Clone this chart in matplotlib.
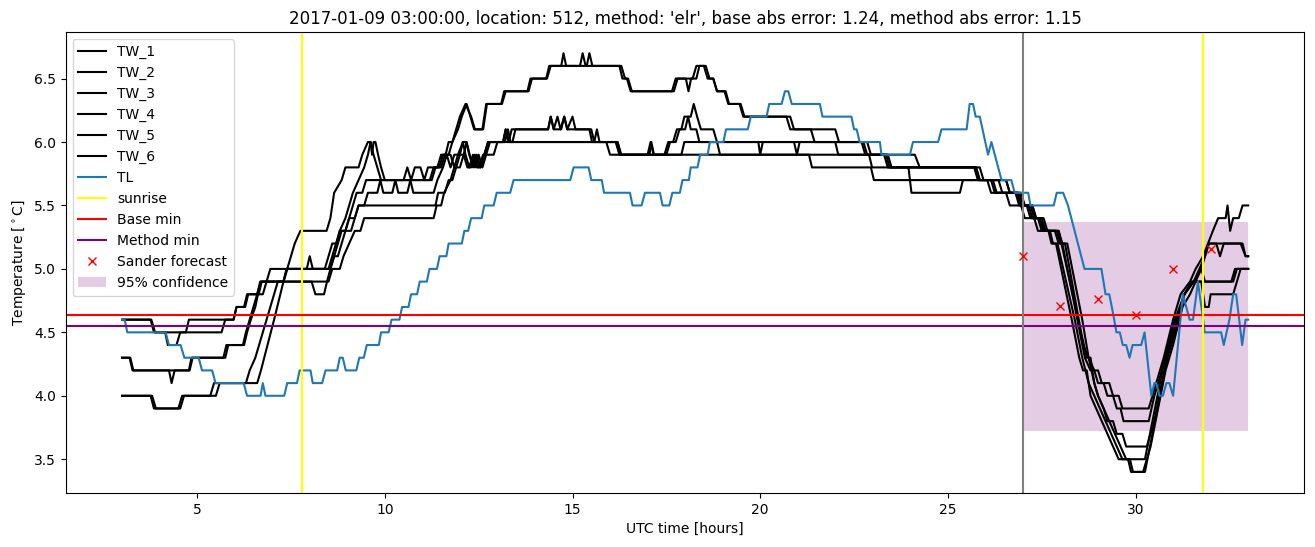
import numpy as np
import matplotlib.pyplot as plt

# (hour, temperature) vertices
tw_1 = [(3.0, 4.0), (3.76, 4.0), (3.85, 3.9), (4.5, 3.9), (4.6, 4.0), (5.35, 4.0), (5.45, 4.1), (6.6, 4.1),
        (6.7, 4.2), (7.05, 4.6), (7.3, 4.9), (7.6, 5.2), (7.75, 5.3), (8.45, 5.3), (8.55, 5.4), (8.65, 5.6),
        (8.85, 5.7), (8.95, 5.8), (9.3, 5.8), (9.4, 5.9), (9.55, 6.0), (9.62, 6.0), (9.66, 5.9), (9.7, 6.0),
        (9.75, 6.0), (9.82, 5.9), (9.9, 5.8), (10.0, 5.7), (10.5, 5.7), (10.6, 5.8), (10.7, 5.7), (10.8, 5.8),
        (10.95, 5.8), (11.05, 5.7), (11.15, 5.8), (11.4, 5.8), (11.5, 5.9), (11.62, 5.9), (11.7, 6.0),
        (11.8, 6.0), (11.9, 6.1), (12.0, 6.2), (12.15, 6.3), (12.3, 6.2), (12.4, 6.1), (12.6, 6.1),
        (12.7, 6.3), (13.1, 6.3), (13.18, 6.4), (13.8, 6.4), (13.88, 6.5), (14.3, 6.5), (14.38, 6.6),
        (14.7, 6.6), (14.76, 6.7), (14.83, 6.6), (15.2, 6.6), (15.27, 6.7), (15.35, 6.6), (16.25, 6.6),
        (16.33, 6.5), (16.45, 6.5), (16.55, 6.4), (17.65, 6.4), (17.75, 6.5), (18.2, 6.5), (18.3, 6.6),
        (18.55, 6.6), (18.65, 6.5), (18.75, 6.5), (18.85, 6.4), (19.05, 6.4), (19.15, 6.3), (19.45, 6.3),
        (19.55, 6.2), (20.7, 6.2), (20.8, 6.1), (22.0, 6.1), (22.1, 6.0), (22.75, 6.0), (22.85, 5.9),
        (23.3, 5.9), (23.4, 5.8), (25.7, 5.8), (25.8, 5.7), (26.35, 5.7), (26.45, 5.6), (26.9, 5.6),
        (27.0, 5.5), (27.25, 5.5), (27.35, 5.4), (27.5, 5.4), (27.6, 5.3), (27.95, 5.3), (28.1, 5.1),
        (28.4, 4.7), (28.6, 4.4), (28.75, 4.3), (28.9, 4.2), (29.0, 4.2), (29.1, 4.1), (29.3, 4.1),
        (29.4, 4.0), (29.55, 4.0), (29.65, 3.9), (30.35, 3.9), (30.55, 4.1), (30.75, 4.3), (31.0, 4.6),
        (31.2, 4.8), (31.45, 4.9), (31.6, 5.0), (31.8, 5.1), (31.93, 5.2), (32.06, 5.3), (32.2, 5.4),
        (32.4, 5.4), (32.45, 5.5), (32.52, 5.3), (32.6, 5.4), (32.75, 5.4), (32.85, 5.5), (33.0, 5.5)]

tw_2 = [(3.0, 4.0), (3.8, 4.0), (3.9, 3.9), (4.55, 3.9), (4.65, 4.0), (5.5, 4.0), (5.6, 4.1), (6.3, 4.1),
        (6.4, 4.2), (6.55, 4.3), (6.65, 4.4), (6.75, 4.5), (6.85, 4.6), (6.95, 4.7), (7.05, 4.8), (7.15, 4.9),
        (7.3, 4.9), (7.4, 5.0), (8.5, 5.0), (8.6, 5.1), (8.7, 5.2), (8.8, 5.3), (8.95, 5.4), (9.05, 5.5),
        (9.15, 5.6), (9.3, 5.7), (9.45, 5.8), (9.55, 5.9), (9.62, 6.0), (9.7, 5.9), (9.8, 5.8), (9.9, 5.7),
        (11.2, 5.7), (11.3, 5.8), (11.45, 5.8), (11.55, 5.9), (11.7, 5.9), (11.8, 6.0), (11.95, 6.1),
        (12.05, 6.2), (12.18, 6.3), (12.28, 6.2), (12.38, 6.1), (12.62, 6.1), (12.72, 6.3), (13.12, 6.3),
        (13.22, 6.4), (13.83, 6.4), (13.92, 6.5), (14.32, 6.5), (14.42, 6.6), (15.38, 6.6), (15.45, 6.7),
        (15.53, 6.6), (16.3, 6.6), (16.4, 6.5), (16.48, 6.5), (16.58, 6.4), (17.7, 6.4), (17.8, 6.5),
        (18.02, 6.5), (18.09, 6.4), (18.16, 6.5), (18.3, 6.5), (18.38, 6.6), (18.5, 6.6), (18.6, 6.5),
        (18.75, 6.5), (18.85, 6.4), (19.08, 6.4), (19.17, 6.3), (19.48, 6.3), (19.58, 6.2), (20.8, 6.2),
        (20.9, 6.1), (21.35, 6.1), (21.45, 6.0), (22.85, 6.0), (22.95, 5.9), (24.12, 5.9), (24.25, 5.8),
        (25.75, 5.8), (25.85, 5.7), (26.55, 5.7), (26.65, 5.6), (26.95, 5.6), (27.05, 5.5), (27.2, 5.5),
        (27.3, 5.4), (27.55, 5.4), (27.65, 5.3), (27.85, 5.3), (27.95, 5.2), (28.05, 5.2), (28.45, 4.6),
        (28.65, 4.3), (28.8, 4.2), (28.9, 4.2), (29.0, 4.1), (29.15, 4.1), (29.25, 4.0), (29.4, 4.0),
        (29.5, 3.9), (29.6, 3.9), (29.68, 3.8), (30.35, 3.8), (30.5, 4.0), (30.7, 4.2), (30.9, 4.4),
        (31.1, 4.6), (31.3, 4.8), (31.55, 4.9), (31.7, 5.0), (31.85, 5.1), (31.95, 5.2), (32.8, 5.2),
        (32.93, 5.1), (33.0, 5.1)]

tw_3 = [(3.0, 4.6), (3.76, 4.6), (3.85, 4.5), (4.15, 4.5), (4.22, 4.4), (4.45, 4.4), (4.55, 4.5), (5.65, 4.5),
        (5.75, 4.6), (5.97, 4.6), (6.05, 4.7), (6.25, 4.7), (6.33, 4.8), (6.64, 4.8), (6.72, 4.9), (7.3, 4.9),
        (7.38, 5.0), (7.92, 5.0), (8.0, 5.1), (8.08, 5.0), (8.55, 5.0), (8.65, 5.1), (8.75, 5.2), (8.85, 5.3),
        (8.95, 5.3), (9.05, 5.4), (9.15, 5.5), (9.25, 5.6), (9.4, 5.6), (9.5, 5.7), (11.25, 5.7), (11.35, 5.8),
        (11.5, 5.8), (11.6, 5.9), (11.75, 5.9), (11.85, 5.8), (11.95, 5.9), (12.08, 6.0), (12.17, 6.0),
        (12.25, 5.9), (12.35, 5.8), (12.45, 5.9), (12.55, 5.8), (12.65, 5.9), (12.75, 6.0), (13.15, 6.0),
        (13.22, 6.1), (13.3, 6.0), (13.38, 6.1), (14.35, 6.1), (14.42, 6.2), (14.5, 6.1), (14.6, 6.2),
        (14.68, 6.1), (14.78, 6.2), (14.86, 6.1), (15.0, 6.2), (15.08, 6.1), (15.5, 6.1), (15.58, 6.0),
        (15.65, 6.1), (15.72, 6.0), (16.2, 6.0), (16.3, 5.9), (17.45, 5.9), (17.55, 6.0), (17.68, 6.0),
        (17.78, 6.1), (17.9, 6.1), (17.98, 6.2), (18.15, 6.2), (18.23, 6.3), (18.32, 6.2), (18.42, 6.1),
        (18.75, 6.1), (18.85, 6.0), (19.95, 6.0), (20.0, 5.9), (20.07, 6.0), (22.7, 6.0), (22.8, 5.9),
        (23.35, 5.9), (23.45, 5.8), (25.75, 5.8), (25.85, 5.7), (26.15, 5.7), (26.25, 5.6), (26.85, 5.6),
        (26.95, 5.5), (27.25, 5.5), (27.35, 5.4), (27.45, 5.4), (27.55, 5.3), (27.9, 5.3), (28.0, 5.2),
        (28.12, 5.2), (28.55, 4.5), (28.7, 4.3), (28.8, 4.3), (28.9, 4.1), (29.0, 4.0), (29.15, 3.9),
        (29.25, 3.8), (29.4, 3.8), (29.5, 3.7), (29.65, 3.7), (29.75, 3.6), (30.3, 3.6), (30.5, 3.8),
        (30.7, 4.1), (30.9, 4.4), (31.1, 4.6), (31.3, 4.8), (31.5, 4.9), (32.6, 4.9), (32.7, 5.0),
        (33.0, 5.0)]

tw_4 = [(3.0, 4.6), (3.78, 4.6), (3.88, 4.5), (4.7, 4.5), (4.78, 4.6), (5.97, 4.6), (6.05, 4.7), (6.28, 4.7),
        (6.36, 4.8), (6.6, 4.8), (6.68, 4.9), (8.05, 4.9), (8.15, 4.8), (8.38, 4.8), (8.46, 4.9), (8.55, 5.0),
        (8.65, 5.1), (8.75, 5.1), (8.85, 5.2), (8.95, 5.3), (9.1, 5.3), (9.2, 5.4), (9.3, 5.5), (9.45, 5.5),
        (9.55, 5.6), (9.8, 5.6), (9.88, 5.7), (9.96, 5.6), (10.2, 5.6), (10.28, 5.7), (10.36, 5.6),
        (10.6, 5.6), (10.68, 5.7), (10.76, 5.6), (11.3, 5.6), (11.4, 5.7), (11.55, 5.8), (11.65, 5.9),
        (11.75, 5.8), (11.85, 5.9), (12.1, 5.9), (12.18, 6.0), (12.26, 5.9), (12.4, 5.8), (12.5, 5.9),
        (12.6, 5.8), (12.7, 5.9), (12.8, 6.0), (13.4, 6.0), (13.48, 6.1), (14.35, 6.1), (14.42, 6.2),
        (14.5, 6.1), (14.7, 6.1), (14.78, 6.2), (14.86, 6.1), (15.45, 6.1), (15.52, 6.0), (16.2, 6.0),
        (16.28, 5.9), (17.0, 5.9), (17.08, 6.0), (17.16, 5.9), (17.5, 5.9), (17.6, 6.0), (17.75, 6.0),
        (17.85, 6.1), (18.0, 6.1), (18.08, 6.2), (18.15, 6.1), (18.3, 6.1), (18.38, 6.0), (20.9, 6.0),
        (20.98, 5.9), (21.05, 6.0), (22.0, 6.0), (22.08, 5.9), (22.9, 5.9), (22.98, 5.8), (25.85, 5.8),
        (25.95, 5.7), (26.2, 5.7), (26.3, 5.6), (26.8, 5.6), (26.9, 5.5), (27.1, 5.5), (27.2, 5.4),
        (27.4, 5.4), (27.5, 5.3), (27.68, 5.3), (27.76, 5.2), (27.88, 5.2), (28.3, 4.6), (28.5, 4.3),
        (28.6, 4.2), (28.7, 4.2), (28.8, 4.0), (28.95, 3.9), (29.1, 3.8), (29.25, 3.7), (29.4, 3.6),
        (29.55, 3.5), (30.25, 3.5), (30.45, 3.8), (30.65, 4.1), (30.85, 4.4), (31.05, 4.6), (31.3, 4.8),
        (31.5, 4.9), (31.75, 4.9), (31.85, 4.7), (31.95, 4.7), (32.0, 4.8), (32.6, 4.8), (32.7, 4.9),
        (32.8, 5.0), (33.0, 5.0)]

tw_5 = [(3.0, 4.3), (3.2, 4.3), (3.28, 4.2), (4.25, 4.2), (4.32, 4.1), (4.4, 4.2), (4.78, 4.2), (4.85, 4.3),
        (5.7, 4.3), (5.78, 4.4), (6.22, 4.4), (6.3, 4.5), (6.4, 4.6), (6.5, 4.7), (6.6, 4.8), (6.7, 4.9),
        (6.85, 4.9), (6.95, 5.0), (8.4, 5.0), (8.5, 5.1), (8.6, 5.2), (8.72, 5.2), (8.8, 5.3), (8.95, 5.3),
        (9.05, 5.4), (9.2, 5.4), (9.3, 5.5), (11.35, 5.5), (11.42, 5.6), (11.6, 5.6), (11.7, 5.7),
        (11.8, 5.7), (11.9, 5.8), (12.0, 5.9), (12.08, 6.0), (12.15, 5.9), (12.25, 5.8), (12.35, 5.9),
        (12.45, 5.8), (12.55, 5.8), (12.65, 5.9), (12.75, 6.0), (13.2, 6.0), (13.28, 6.1), (13.35, 6.0),
        (15.9, 6.0), (16.0, 5.9), (17.05, 5.9), (17.1, 6.0), (17.17, 5.9), (17.9, 5.9), (17.98, 6.0),
        (18.85, 6.0), (18.93, 5.9), (21.3, 5.9), (21.38, 5.8), (22.95, 5.8), (23.03, 5.7), (26.55, 5.7),
        (26.65, 5.6), (26.85, 5.6), (26.95, 5.5), (27.15, 5.5), (27.25, 5.4), (27.45, 5.4), (27.55, 5.3),
        (27.72, 5.3), (27.8, 5.2), (27.92, 5.2), (28.38, 4.6), (28.58, 4.3), (28.75, 4.1), (28.9, 4.0),
        (29.05, 3.9), (29.2, 3.8), (29.35, 3.7), (29.5, 3.6), (29.65, 3.5), (29.8, 3.5), (29.88, 3.4),
        (30.25, 3.4), (30.45, 3.7), (30.65, 4.0), (30.85, 4.3), (31.05, 4.5), (31.3, 4.8), (31.55, 4.9),
        (31.75, 5.0), (31.85, 4.9), (32.55, 4.9), (32.65, 5.0), (33.0, 5.0)]

tw_6 = [(3.0, 4.3), (3.22, 4.3), (3.3, 4.2), (4.8, 4.2), (4.88, 4.3), (5.75, 4.3), (5.83, 4.4), (6.25, 4.4),
        (6.33, 4.5), (6.43, 4.6), (6.55, 4.7), (6.62, 4.8), (6.75, 4.8), (6.85, 4.9), (8.5, 4.9), (8.6, 5.0),
        (8.8, 5.0), (8.9, 5.1), (9.05, 5.2), (9.2, 5.3), (9.35, 5.3), (9.45, 5.4), (11.3, 5.4), (11.38, 5.5),
        (11.5, 5.5), (11.58, 5.6), (11.75, 5.7), (11.85, 5.8), (12.0, 5.8), (12.1, 5.9), (12.2, 5.8),
        (12.3, 5.8), (12.4, 5.9), (12.5, 5.8), (12.62, 5.9), (12.9, 5.9), (13.0, 6.0), (13.15, 6.0),
        (13.22, 6.1), (13.3, 6.0), (16.15, 6.0), (16.25, 5.9), (23.4, 5.9), (23.5, 5.8), (23.95, 5.8),
        (24.03, 5.6), (25.32, 5.6), (25.4, 5.7), (26.05, 5.7), (26.15, 5.6), (26.55, 5.6), (26.65, 5.5),
        (26.95, 5.5), (27.05, 5.4), (27.3, 5.4), (27.4, 5.3), (27.95, 5.3), (28.05, 5.2), (28.18, 5.2),
        (28.58, 4.6), (28.75, 4.3), (28.9, 4.1), (29.0, 4.0), (29.15, 3.9), (29.3, 3.8), (29.45, 3.7),
        (29.6, 3.6), (29.75, 3.5), (29.85, 3.5), (29.93, 3.4), (30.2, 3.4), (30.4, 3.6), (30.6, 3.9),
        (30.8, 4.2), (31.0, 4.4), (31.25, 4.7), (31.45, 4.8), (31.6, 4.9), (31.75, 5.0), (31.85, 5.1),
        (31.95, 5.2), (32.15, 5.2), (32.25, 5.1), (32.35, 5.2), (32.85, 5.2), (32.93, 5.1), (33.0, 5.1)]

tl = [(3.0, 4.6), (3.07, 4.6), (3.14, 4.5), (4.16, 4.5), (4.25, 4.4), (4.56, 4.4), (4.66, 4.3), (5.04, 4.3),
      (5.13, 4.2), (5.4, 4.2), (5.49, 4.1), (6.24, 4.1), (6.33, 4.0), (6.69, 4.0), (6.75, 4.1), (6.82, 4.0),
      (7.32, 4.0), (7.4, 4.1), (7.66, 4.1), (7.73, 4.2), (8.02, 4.2), (8.08, 4.1), (8.33, 4.1), (8.42, 4.2),
      (8.73, 4.2), (8.8, 4.3), (8.88, 4.3), (8.96, 4.2), (9.24, 4.2), (9.32, 4.3), (9.44, 4.3), (9.52, 4.4),
      (9.84, 4.4), (9.9, 4.5), (10.1, 4.5), (10.18, 4.6), (10.39, 4.6), (10.46, 4.7), (10.63, 4.7),
      (10.7, 4.8), (10.86, 4.8), (10.93, 4.9), (11.12, 4.9), (11.19, 5.0), (11.39, 5.0), (11.46, 5.1),
      (11.64, 5.1), (11.7, 5.2), (12.05, 5.2), (12.12, 5.3), (12.22, 5.3), (12.3, 5.4), (12.58, 5.4),
      (12.65, 5.5), (12.9, 5.5), (12.98, 5.6), (13.34, 5.6), (13.43, 5.7), (14.94, 5.7), (15.03, 5.8),
      (15.43, 5.8), (15.5, 5.7), (15.78, 5.7), (15.84, 5.6), (16.53, 5.6), (16.6, 5.5), (16.84, 5.5),
      (16.93, 5.6), (17.33, 5.6), (17.4, 5.5), (17.58, 5.5), (17.66, 5.6), (17.86, 5.6), (17.93, 5.7),
      (18.1, 5.7), (18.15, 5.8), (18.33, 5.8), (18.4, 5.9), (18.6, 5.9), (18.66, 6.0), (19.02, 6.0),
      (19.09, 6.1), (19.67, 6.1), (19.75, 6.2), (20.17, 6.2), (20.24, 6.3), (20.57, 6.3), (20.66, 6.4),
      (20.75, 6.4), (20.84, 6.3), (21.59, 6.3), (21.66, 6.2), (22.43, 6.2), (22.5, 6.1), (22.57, 6.1),
      (22.65, 6.0), (23.19, 6.0), (23.23, 5.9), (23.99, 5.9), (24.07, 6.0), (24.74, 6.0), (24.83, 6.1),
      (25.5, 6.1), (25.58, 6.3), (25.67, 6.3), (25.74, 6.2), (25.85, 6.2), (26.07, 5.9), (26.16, 6.0),
      (26.43, 5.7), (26.69, 5.7), (26.78, 5.6), (27.14, 5.6), (27.2, 5.5), (27.82, 5.5), (27.9, 5.6),
      (28.07, 5.6), (28.2, 5.5), (28.64, 5.0), (29.09, 5.0), (29.2, 4.8), (29.3, 4.8), (29.4, 4.65),
      (29.49, 4.5), (29.58, 4.5), (29.66, 4.4), (29.75, 4.4), (29.84, 4.3), (29.92, 4.4), (30.15, 4.4),
      (30.24, 4.5), (30.42, 4.0), (30.5, 4.1), (30.55, 4.1), (30.64, 4.0), (30.73, 4.0), (30.82, 4.1),
      (30.9, 4.1), (31.0, 4.0), (31.26, 4.8), (31.35, 4.7), (31.44, 4.6), (31.53, 4.6), (31.62, 4.8),
      (31.66, 4.9), (31.8, 4.6), (31.84, 4.5), (32.28, 4.5), (32.35, 4.4), (32.5, 4.6), (32.6, 4.8),
      (32.68, 4.8), (32.76, 4.6), (32.84, 4.4), (32.93, 4.6), (33.0, 4.6)]

tw_series = [tw_1, tw_2, tw_3, tw_4, tw_5, tw_6]

sunrise = [7.8, 31.8]
forecast_start = 27.0
base_min = 4.64
method_min = 4.55

sander_hours = [27, 28, 29, 30, 31, 32]
sander_values = [5.10, 4.71, 4.76, 4.64, 5.00, 5.16]

conf_hours = [27, 33]
conf_low = 3.72
conf_high = 5.37

fig, ax = plt.subplots(figsize=(13.15, 5.47), dpi=100)
fig.subplots_adjust(left=0.050, right=0.992, top=0.941, bottom=0.099)

for i, s in enumerate(tw_series):
    h, v = zip(*s)
    ax.plot(h, v, color='black', label=f'TW_{i + 1}')

h, v = zip(*tl)
ax.plot(h, v, color='tab:blue', label='TL')

ax.axvline(sunrise[0], color='yellow', label='sunrise')
ax.axhline(base_min, color='red', label='Base min')
ax.axhline(method_min, color='purple', label='Method min')
ax.axvline(forecast_start, color='gray')
ax.axvline(sunrise[1], color='yellow')
ax.plot(sander_hours, sander_values, 'x', color='red', label='Sander forecast')
ax.fill_between(conf_hours, conf_low, conf_high, color='purple', alpha=0.2, linewidth=0,
                label='95% confidence')

ax.set_xlabel('UTC time [hours]')
ax.set_ylabel(r'Temperature [$^\circ$C]')
ax.set_title("2017-01-09 03:00:00, location: 512, method: 'elr', base abs error: 1.24, method abs error: 1.15")
ax.legend(loc='upper left')

plt.savefig('out.png')
